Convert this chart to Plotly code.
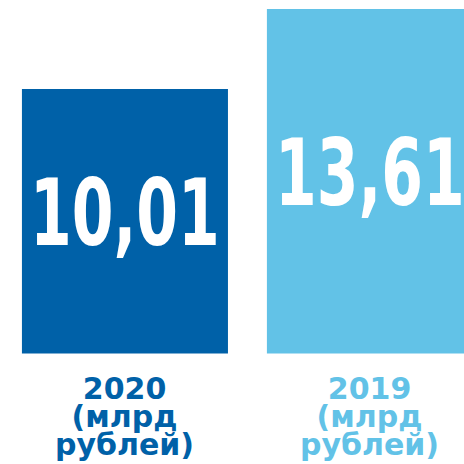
import plotly.graph_objects as go

categories = ["2020", "2019"]
values = [10.01, 13.61]
value_labels = ["10,01", "13,61"]
label_lines = [["2020", "(млрд", "рублей)"], ["2019", "(млрд", "рублей)"]]
colors = ["#0061A8", "#62C2E7"]

BASE = -1.89

fig = go.Figure()
fig.add_trace(go.Bar(
    x=categories,
    y=[v - BASE for v in values],
    base=BASE,
    marker=dict(color=colors, line=dict(width=0)),
    text=value_labels,
    textposition="inside",
    insidetextanchor="middle",
    textangle=0,
    constraintext="none",
    textfont=dict(family="DejaVu Sans Condensed, DejaVu Sans, sans-serif",
                  size=92, color="white", weight="bold"),
    hoverinfo="skip",
))

H = 464
LABEL_TOP_PX = 369
for ci, cat in enumerate(categories):
    fig.add_annotation(
        x=ci, xref="x",
        y=1 - LABEL_TOP_PX / H, yref="paper",
        text="<br>".join(label_lines[ci]), showarrow=False,
        xanchor="center", yanchor="top", align="center",
        font=dict(family="DejaVu Sans, sans-serif", size=30,
                  color=colors[ci], weight="bold"),
    )

fig.update_layout(
    width=464, height=464,
    margin=dict(l=0, r=0, t=0, b=0),
    paper_bgcolor="white", plot_bgcolor="white",
    bargap=0.159,
    showlegend=False,
    xaxis=dict(range=[-0.51, 1.384], visible=False, type="category"),
    yaxis=dict(range=[-6.866, 14.015], visible=False),
)

# condensed display-face look for the big value labels (set slightly above centre)
# and tight line spacing for the category labels
post = """
(function(){
  var gd = document.getElementById('{plot_id}');
  var SX = 0.725, RAISE = 8, LS = 0.935 / 1.3;
  function apply(){
    var ts = gd.querySelectorAll('.bartext');
    var an = gd.querySelectorAll('.annotation-text');
    if(!ts.length || !an.length){ setTimeout(apply, 30); return; }
    ts.forEach(function(t){
      if(t.getAttribute('data-sq')) return;
      var b = t.getBBox();
      var cx = b.x + b.width/2, cy = b.y + b.height/2;
      var tr = t.getAttribute('transform') || '';
      t.setAttribute('transform', 'translate(0,' + (-RAISE) + ') ' + tr +
        ' translate(' + cx + ',' + cy + ') scale(' + SX + ',1) translate(' + (-cx) + ',' + (-cy) + ')');
      t.setAttribute('data-sq', '1');
    });
    an.forEach(function(t){
      if(t.getAttribute('data-ls')) return;
      t.querySelectorAll('tspan.line').forEach(function(l){
        var dy = l.getAttribute('dy');
        if(dy && dy.indexOf('em') > 0){
          l.setAttribute('dy', (parseFloat(dy) * LS) + 'em');
        }
      });
      t.setAttribute('data-ls', '1');
    });
  }
  apply();
})();
"""

fig.write_html("out.html", post_script=post)
